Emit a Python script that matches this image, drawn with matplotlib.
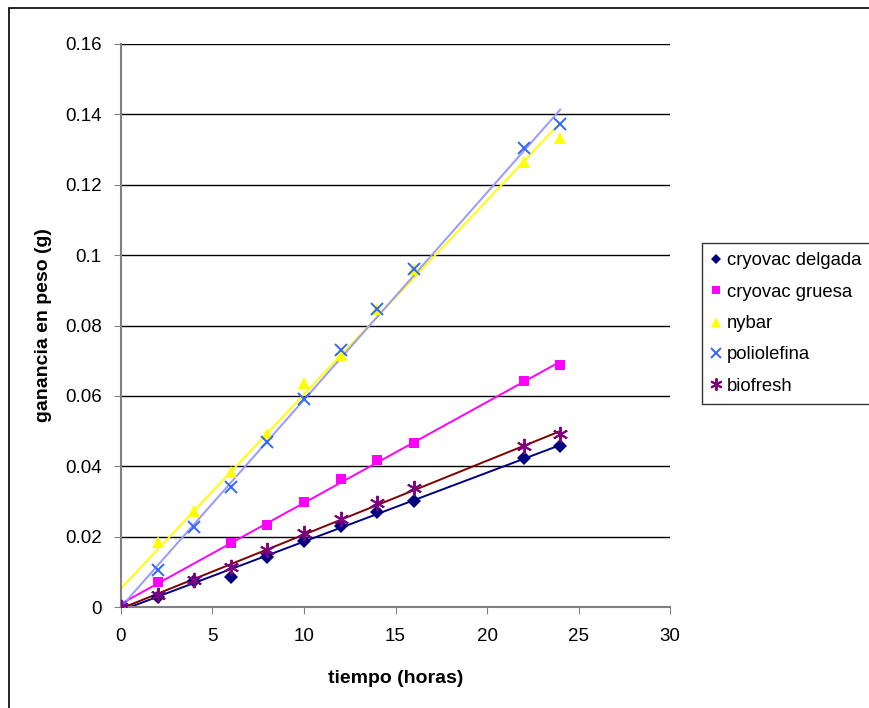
import numpy as np
import matplotlib.pyplot as plt
from matplotlib.patches import Rectangle

plt.rcParams["font.family"] = ["Liberation Sans", "DejaVu Sans"]

# horas de medicion
tiempo = [0, 2, 4, 6, 8, 10, 12, 14, 16, 22, 24]

# ganancia en peso (g) por tipo de empaque
cryovac_delgada = [0, 0.0028, 0.0075, 0.0085, 0.0142, 0.0188, 0.0230, 0.0271, 0.0301, 0.0424, 0.0458]
cryovac_gruesa = [0, 0.0071, np.nan, 0.0182, 0.0232, 0.0298, 0.0364, 0.0417, 0.0466, 0.0642, 0.0688]
nybar = [0, 0.0184, 0.0272, 0.0384, 0.0492, 0.0636, 0.0716, 0.0846, 0.0960, 0.1265, 0.1333]
poliolefina = [0, 0.0105, 0.0227, 0.0341, 0.0469, 0.0591, 0.0731, 0.0847, 0.0961, 0.1304, 0.1373]
biofresh = [0, 0.0034, 0.0077, 0.0114, 0.0162, 0.0210, 0.0250, 0.0296, 0.0338, 0.0458, 0.0492]

series = [
    ("cryovac delgada", cryovac_delgada, "D", "#000080", "#000080", 7),
    ("cryovac gruesa", cryovac_gruesa, "s", "#FF00FF", "#FF00FF", 7.5),
    ("nybar", nybar, "^", "#FFFF00", "#FFFF00", 9),
    ("poliolefina", poliolefina, "x", "#3366FF", "#9999FF", 9),
    ("biofresh", biofresh, (6, 2, 0), "#800080", "#800000", 11),
]

fig = plt.figure(figsize=(8.7, 7.08), dpi=100)
ax = fig.add_axes([121 / 870, 101 / 708, 549 / 870, 563 / 708])

# marco exterior del grafico
fig.patches.append(Rectangle((9 / 870, -0.1), 1.2, 1.1 - 8 / 708,
                             transform=fig.transFigure, fill=False,
                             edgecolor="black", linewidth=1.2))

x = np.array(tiempo, dtype=float)
for name, vals, marker, mcolor, lcolor, ms in series:
    y = np.array(vals, dtype=float)
    ok = ~np.isnan(y)
    # linea de tendencia lineal
    slope, intercept = np.polyfit(x[ok], y[ok], 1)
    xs = np.array([0, 24])
    ax.plot(xs, slope * xs + intercept, color=lcolor, linewidth=1.4, zorder=2)
    if marker == "x" or isinstance(marker, tuple):
        kw = dict(markeredgewidth=1.4)
    else:
        kw = dict(markeredgewidth=0)
    ax.plot(x[ok], y[ok], linestyle="none", marker=marker, markersize=ms,
            color=mcolor, label=name, zorder=3, **kw)

ax.set_xlim(0, 30)
ax.set_ylim(0, 0.16)
ax.set_xticks([0, 5, 10, 15, 20, 25, 30])
ax.set_xticklabels(["0", "5", "10", "15", "20", "25", "30"])
ax.set_yticks(np.arange(0, 0.161, 0.02))
ax.set_yticklabels(["0", "0.02", "0.04", "0.06", "0.08", "0.1", "0.12", "0.14", "0.16"])
ax.tick_params(axis="both", labelsize=13.5, direction="out", length=5, color="#808080")
ax.tick_params(axis="x", pad=10)
ax.tick_params(axis="y", pad=9)
ax.yaxis.grid(True, color="black", linewidth=1)
ax.set_axisbelow(True)
for side in ("top", "right"):
    ax.spines[side].set_visible(False)
for side in ("left", "bottom"):
    ax.spines[side].set_color("#808080")
    ax.spines[side].set_linewidth(1.5)

ax.set_xlabel("tiempo (horas)", fontsize=14, fontweight="bold", labelpad=18)
ax.set_ylabel("ganancia en peso (g)", fontsize=14, fontweight="bold", labelpad=9)

leg = ax.legend(loc="upper left", bbox_to_anchor=(702 / 870, 465 / 708),
                bbox_transform=fig.transFigure, borderaxespad=0,
                frameon=True, fancybox=False,
                edgecolor="black", fontsize=13.3, handlelength=0.55,
                handletextpad=0.3, labelspacing=0.78, borderpad=0.5,
                markerscale=0.8)
leg.get_frame().set_linewidth(1.0)

fig.savefig("out.png", dpi=100, facecolor="white")
